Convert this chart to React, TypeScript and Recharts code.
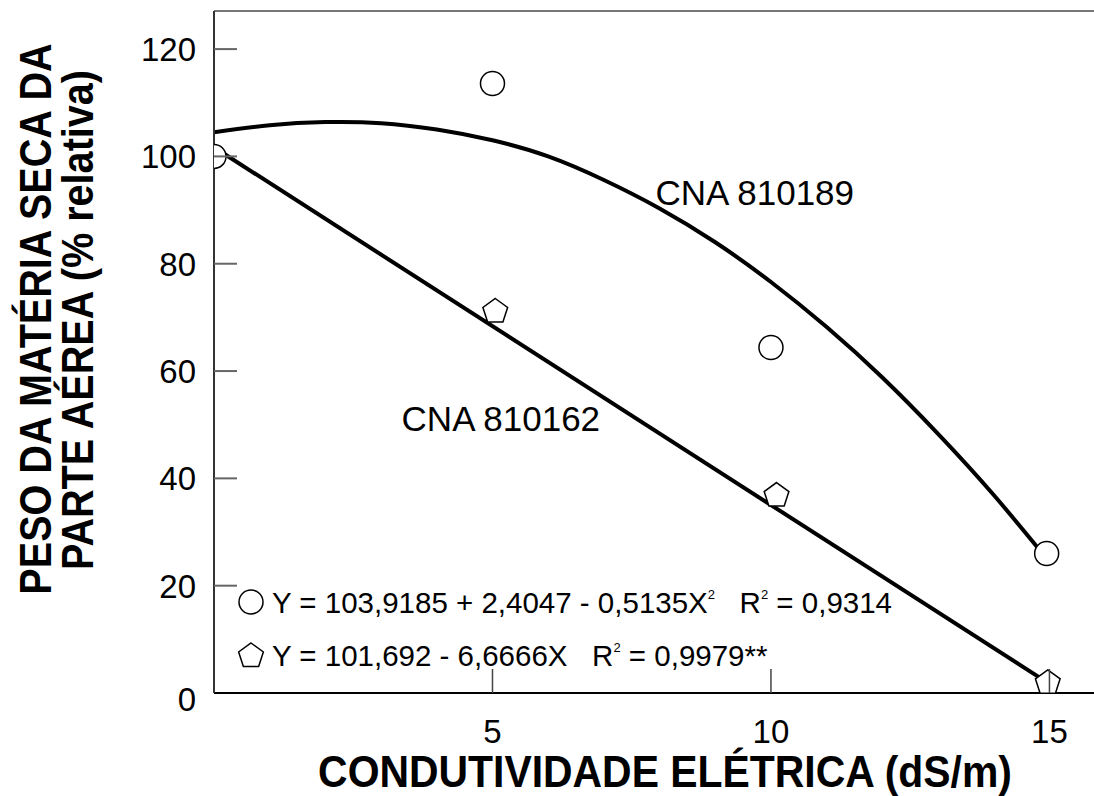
import React from 'react';
import {
  ComposedChart,
  Line,
  Scatter,
  XAxis,
  YAxis,
  ReferenceLine,
  ReferenceDot,
  Legend,
} from 'recharts';

const FONT = '"Liberation Sans", Arial, Helvetica, sans-serif';

// Axis ticks
const xTicks = [5, 10, 15];
const yTicks = [0, 20, 40, 60, 80, 100, 120];
const X_MAX = 15.8;
const Y_MAX = 127.1;

// Observed points – CNA 810189 (circles)
const circleX = [0, 5.0, 10.0, 14.95];
const circleY = [100, 113.6, 64.4, 26.0];

// Observed points – CNA 810162 (pentagons)
const pentX = [5.05, 10.1, 14.97];
const pentY = [71.1, 36.8, 1.9];

// Fitted curve CNA 810189
const curveX = [0, 1, 2, 3, 4, 5, 6, 7, 8, 9, 10, 11, 12, 13, 14, 15];
const curveY = [104.5, 105.8, 106.4, 106.2, 105.0, 103.0, 100.0, 95.6, 90.3, 84.0, 76.6, 68.2, 58.8, 48.3, 36.9, 24.4];

// Fitted line CNA 810162
const lineX = [0, 15];
const lineY = [101.7, 1.7];

const zip = (xs: number[], ys: number[]) => xs.map((x, i) => ({ x, y: ys[i] }));
const circleData = zip(circleX, circleY);
const pentData = zip(pentX, pentY);
const curveData = zip(curveX, curveY);
const lineData = zip(lineX, lineY);

const W = 1094;
const H = 796;
const PLOT_LEFT = 214;
const PLOT_TOP = 11;
const X_AXIS_H = 103;
const PLOT_BOTTOM = H - X_AXIS_H;

const pentPoints = (cx: number, cy: number, r: number) => {
  const pts: string[] = [];
  for (let i = 0; i < 5; i++) {
    const a = -Math.PI / 2 + (i * 2 * Math.PI) / 5;
    pts.push(`${cx + r * Math.cos(a)},${cy + r * Math.sin(a)}`);
  }
  return pts.join(' ');
};

const CircleShape = (props: any) => (
  <circle cx={props.cx} cy={props.cy} r={12} fill="#fff" stroke="#000" strokeWidth={1.5} />
);
const PentShape = (props: any) => (
  <polygon points={pentPoints(props.cx, props.cy, 13)} fill="#fff" stroke="#000" strokeWidth={1.5} />
);

const YTick = (props: any) => {
  const { y, payload } = props;
  return (
    <g>
      {payload.value !== 0 && (
        <line x1={PLOT_LEFT} x2={PLOT_LEFT + 23} y1={y} y2={y} stroke="#666" strokeWidth={2} />
      )}
      <text
        x={PLOT_LEFT - 18}
        y={y}
        dy={payload.value === 0 ? 18 : 12}
        textAnchor="end"
        fontSize={33}
        fontFamily={FONT}
        fill="#000"
      >
        {payload.value}
      </text>
    </g>
  );
};

const XTick = (props: any) => {
  const { x, payload } = props;
  return (
    <g>
      <line x1={x} x2={x} y1={PLOT_BOTTOM} y2={PLOT_BOTTOM - 24} stroke="#444" strokeWidth={1.5} />
      <text x={x} y={PLOT_BOTTOM + 50} textAnchor="middle" fontSize={33} fontFamily={FONT} fill="#000">
        {payload.value}
      </text>
    </g>
  );
};

const YTitle = () => (
  <g>
    <text
      transform="translate(51, 319) rotate(-90) scale(0.9, 1)"
      textAnchor="middle"
      fontSize={44}
      fontWeight="bold"
      fontFamily={FONT}
      fill="#000"
    >
      PESO DA MATÉRIA SECA DA
    </text>
    <text
      transform="translate(93, 320) rotate(-90) scale(0.9, 1)"
      textAnchor="middle"
      fontSize={44}
      fontWeight="bold"
      fontFamily={FONT}
      fill="#000"
    >
      PARTE AÉREA (% relativa)
    </text>
  </g>
);

const XTitle = () => (
  <text
    transform="translate(665, 787) scale(0.93, 1)"
    textAnchor="middle"
    fontSize={44}
    fontWeight="bold"
    fontFamily={FONT}
    fill="#000"
  >
    CONDUTIVIDADE ELÉTRICA (dS/m)
  </text>
);

const LegendBox = () => (
  <svg width={700} height={110} style={{ display: 'block', overflow: 'visible' }}>
    <circle cx={23} cy={24} r={12} fill="#fff" stroke="#000" strokeWidth={1.5} />
    <text x={44} y={35} fontSize={29.5} fontFamily={FONT} fill="#000" style={{ whiteSpace: 'pre' }}>
      Y = 103,9185 + 2,4047 - 0,5135X
      <tspan fontSize={13} dy={-14}>2</tspan>
      <tspan dy={14}>{'   R'}</tspan>
      <tspan fontSize={13} dy={-14}>2</tspan>
      <tspan dy={14}>{' = 0,9314'}</tspan>
    </text>
    <polygon points={pentPoints(23, 78, 13)} fill="#fff" stroke="#000" strokeWidth={1.5} />
    <text x={44} y={88} fontSize={29.5} fontFamily={FONT} fill="#000" style={{ whiteSpace: 'pre' }}>
      Y = 101,692 - 6,6666X
      <tspan dy={0}>{'   R'}</tspan>
      <tspan fontSize={13} dy={-14}>2</tspan>
      <tspan dy={14}>{' = 0,9979**'}</tspan>
    </text>
  </svg>
);

export default function App() {
  return (
    <div style={{ position: 'absolute', left: 0, top: 0, width: W, height: H, background: '#fff' }}>
      <ComposedChart
        width={W}
        height={H}
        margin={{ top: PLOT_TOP, right: 0, bottom: 0, left: 0 }}
        style={{ fontFamily: FONT }}
      >
        <XAxis
          type="number"
          dataKey="x"
          domain={[0, X_MAX]}
          ticks={xTicks}
          interval={0}
          allowDataOverflow
          height={X_AXIS_H}
          axisLine={{ stroke: '#000', strokeWidth: 2 }}
          tickLine={false}
          tick={<XTick />}
          label={<XTitle />}
        />
        <YAxis
          type="number"
          domain={[0, Y_MAX]}
          ticks={yTicks}
          interval={0}
          allowDataOverflow
          width={PLOT_LEFT}
          axisLine={{ stroke: '#333', strokeWidth: 2 }}
          tickLine={false}
          tick={<YTick />}
          label={<YTitle />}
        />
        <ReferenceLine y={Y_MAX} stroke="#777" strokeWidth={2} />
        <Line
          data={curveData}
          dataKey="y"
          type="natural"
          stroke="#000"
          strokeWidth={4}
          dot={false}
          activeDot={false}
          isAnimationActive={false}
          legendType="none"
        />
        <Line
          data={lineData}
          dataKey="y"
          type="linear"
          stroke="#000"
          strokeWidth={4}
          dot={false}
          activeDot={false}
          isAnimationActive={false}
          legendType="none"
        />
        <Scatter data={circleData} dataKey="y" shape={<CircleShape />} isAnimationActive={false} legendType="none" />
        <Scatter data={pentData} dataKey="y" shape={<PentShape />} isAnimationActive={false} legendType="none" />
        <ReferenceDot
          x={9.71}
          y={93.3}
          r={0}
          fill="none"
          stroke="none"
          label={{ value: 'CNA 810189', position: 'center', fontSize: 35, fill: '#000', fontFamily: FONT }}
        />
        <ReferenceDot
          x={5.15}
          y={51.2}
          r={0}
          fill="none"
          stroke="none"
          label={{ value: 'CNA 810162', position: 'center', fontSize: 35, fill: '#000', fontFamily: FONT }}
        />
        <Legend
          layout="vertical"
          align="center"
          verticalAlign="middle"
          wrapperStyle={{ left: 228, top: 578, width: 700, height: 110 }}
          content={() => <LegendBox />}
        />
      </ComposedChart>
    </div>
  );
}
